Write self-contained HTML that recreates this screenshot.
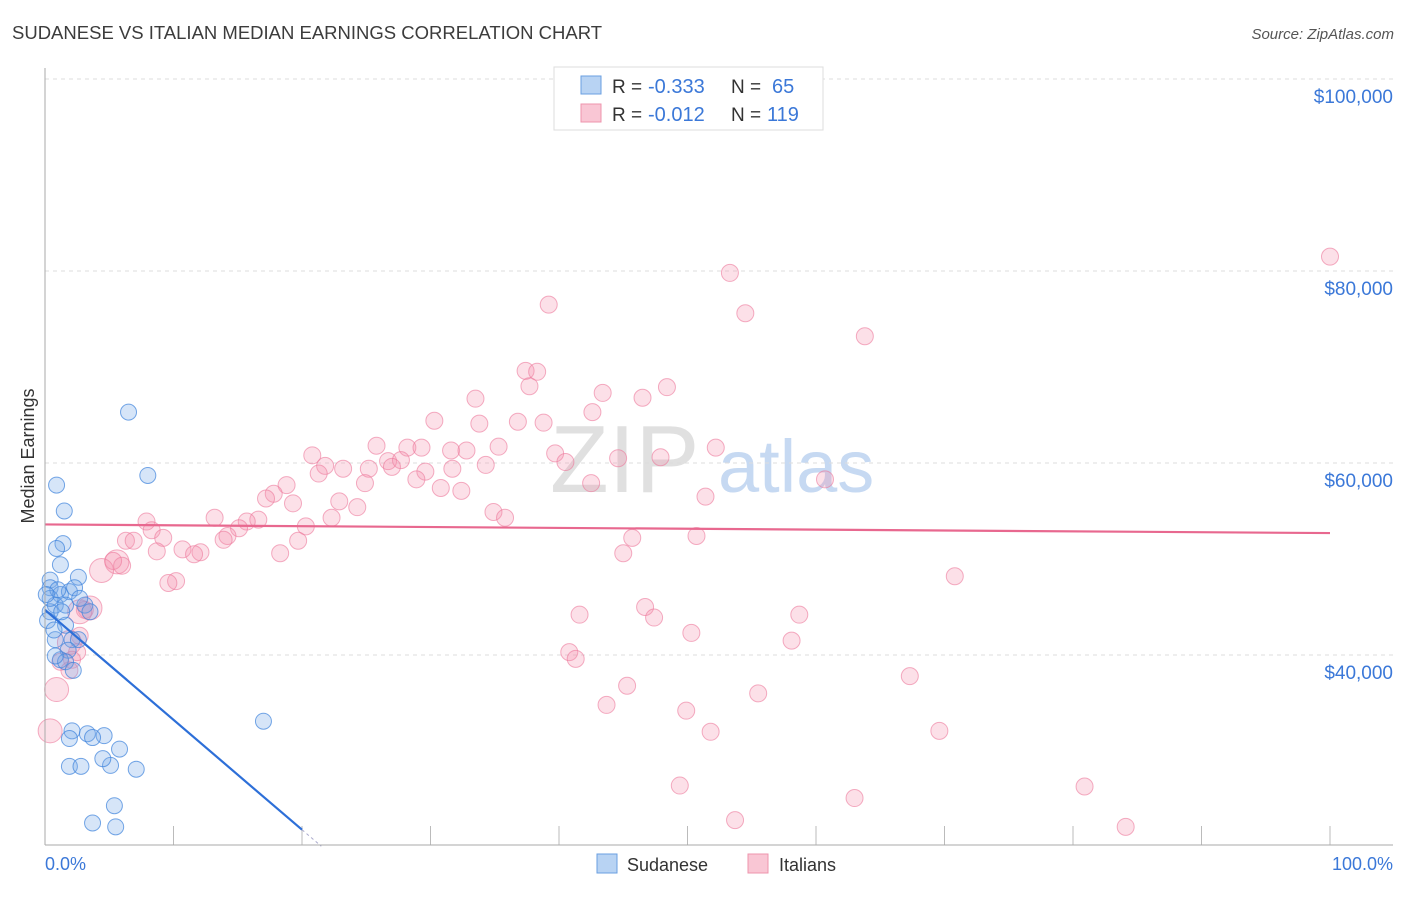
<!DOCTYPE html>
<html><head><meta charset="utf-8"><style>
body{margin:0;background:#fff;font-family:"Liberation Sans",sans-serif}
svg text{font-family:"Liberation Sans",sans-serif}
</style></head><body>
<svg id="c" width="1406" height="892">
<text x="12" y="39" font-size="18.5" fill="#3c3c3c">SUDANESE VS ITALIAN MEDIAN EARNINGS CORRELATION CHART</text>
<text x="1394" y="39" font-size="15" fill="#555" font-style="italic" text-anchor="end">Source: ZipAtlas.com</text>
<text transform="translate(34,456) rotate(-90)" font-size="18" fill="#333" text-anchor="middle">Median Earnings</text>
<text x="550" y="492" font-size="96" fill="#e0e0e0" font-family="Liberation Serif">ZIP</text>
<text x="718" y="492" font-size="74" fill="#c6d9f2">atlas</text>
<g id="grid"></g><g id="pts"></g><g id="lines"></g>
<line x1="45" y1="68" x2="45" y2="845" stroke="#aaa"/>
<line x1="45" y1="845" x2="1393" y2="845" stroke="#aaa"/>
<text x="45" y="870" font-size="18" fill="#3b78d8">0.0%</text>
<text x="1393" y="870" font-size="18" fill="#3b78d8" text-anchor="end">100.0%</text>
<g>
<rect x="554" y="67" width="269" height="63" fill="#fff" stroke="#ddd"/>
<rect x="581" y="76" width="20" height="18" fill="#b8d3f3" stroke="#6a9fe0"/>
<rect x="581" y="104" width="20" height="18" fill="#f9c6d4" stroke="#ee94ad"/>
<text x="612" y="93" font-size="19" fill="#333">R =</text>
<text x="648" y="93" font-size="20" fill="#3b78d8">-0.333</text>
<text x="731" y="93" font-size="19" fill="#333">N =</text>
<text x="772" y="93" font-size="20" fill="#3b78d8">65</text>
<text x="612" y="121" font-size="19" fill="#333">R =</text>
<text x="648" y="121" font-size="20" fill="#3b78d8">-0.012</text>
<text x="731" y="121" font-size="19" fill="#333">N =</text>
<text x="767" y="121" font-size="20" fill="#3b78d8">119</text>
</g>
<g>
<rect x="597" y="854" width="20" height="19" fill="#b8d3f3" stroke="#6a9fe0"/>
<text x="627" y="871" font-size="18" fill="#333">Sudanese</text>
<rect x="748" y="854" width="20" height="19" fill="#f9c6d4" stroke="#ee94ad"/>
<text x="779" y="871" font-size="18" fill="#333">Italians</text>
</g>
</svg>
<script>
const yTicks=[40000,60000,80000,100000];
const yTickLabels=["$40,000","$60,000","$80,000","$100,000"];
const xTicks=[0,10,20,30,40,50,60,70,80,90,100];
const sudX=[6.5,8.0,0.9,1.5,1.4,0.9,1.2,0.4,2.6,0.4,1.2,1.9,2.3,0.8,1.6,3.1,2.7,3.5,0.4,0.8,1.6,2.1,2.6,1.8,1.2,1.6,2.2,0.8,17.0,2.1,3.3,4.6,3.7,1.9,5.8,1.9,2.8,5.1,4.5,7.1,5.4,3.7,5.5,0.4,1.0,0.1,0.2,1.3,0.7];
const sudY=[65.3,58.7,57.7,55.0,51.6,51.1,49.4,47.8,48.1,47.0,46.3,46.6,47.0,45.2,45.2,45.2,45.9,44.5,44.5,41.6,43.1,41.6,41.6,40.5,39.5,39.3,38.4,39.9,33.1,32.1,31.8,31.6,31.4,31.3,30.2,28.4,28.4,28.5,29.2,28.1,24.3,22.5,22.1,45.9,46.8,46.3,43.6,44.5,42.6];
const itaX=[100,53.3,39.2,54.5,63.8,37.4,38.3,37.7,43.4,48.4,33.5,42.6,46.5,30.3,33.8,36.8,38.8,25.8,28.2,29.3,20.8,21.8,35.3,39.7,40.5,31.6,32.8,44.6,47.9,52.2,26.7,27.7,27.0,23.2,25.2,29.6,31.7,34.3,21.3,28.9,24.9,30.8,32.4,60.7,42.5,18.8,17.8,17.2,22.9,19.3,24.3,51.4,34.9,35.8,22.3,7.9,13.2,16.6,15.7,20.3,8.3,15.1,14.2,9.2,6.3,6.9,13.9,19.7,45.7,50.7,10.7,8.7,12.1,11.6,45.0,18.3,5.6,6.0,4.4,5.3,10.2,9.6,70.8,46.7,41.6,47.4,58.7,3.5,3.1,2.7,50.3,58.1,1.9,2.7,40.8,41.3,2.5,2.1,1.2,1.9,67.3,45.3,0.9,55.5,43.7,49.9,51.8,69.6,0.4,49.4,80.9,63.0,53.7,84.1];
const itaY=[81.5,79.8,76.5,75.6,73.2,69.6,69.5,68.0,67.3,67.9,66.7,65.3,66.8,64.4,64.1,64.3,64.2,61.8,61.6,61.6,60.8,59.7,61.7,61.0,60.1,61.3,61.3,60.5,60.6,61.6,60.2,60.3,59.6,59.4,59.4,59.1,59.4,59.8,58.9,58.3,57.9,57.4,57.1,58.3,57.9,57.7,56.8,56.3,56.0,55.8,55.4,56.5,54.9,54.3,54.3,53.9,54.3,54.1,53.9,53.4,53.0,53.2,52.4,52.2,51.9,51.9,52.0,51.9,52.2,52.4,51.0,50.8,50.7,50.5,50.6,50.6,49.7,49.3,48.8,49.8,47.7,47.5,48.2,45.0,44.2,43.9,44.2,44.9,44.7,44.5,42.3,41.5,41.3,42.0,40.3,39.6,40.3,39.5,39.3,38.4,37.8,36.8,36.4,36.0,34.8,34.2,32.0,32.1,32.1,26.4,26.3,25.1,22.8,22.1];
const itaBig=[76,78,87,89,92,102,108];
const sudTrend=[44700,-1145];
const itaTrend=[53600,-9];
const NS="http://www.w3.org/2000/svg";
const X=p=>45+p*12.85;
const Y=v=>1039-v*0.0096;
function mk(t,a,p){const e=document.createElementNS(NS,t);for(const k in a)e.setAttribute(k,a[k]);p.appendChild(e);return e;}
const grid=document.getElementById('grid'),pts=document.getElementById('pts'),lines=document.getElementById('lines');
mk('line',{x1:45,y1:Y(100000),x2:1393,y2:Y(100000),stroke:'#ddd','stroke-dasharray':'4,4'},grid);
yTicks.forEach((v,i)=>{
 const l=mk('line',{x1:45,y1:Y(v),x2:1393,y2:Y(v),stroke:'#ddd','stroke-dasharray':'4,4'},grid);
 
 
 const t=mk('text',{x:1393,y:Y(v)+24,'font-size':19,fill:'#3b78d8','text-anchor':'end'},grid);
 t.textContent=yTickLabels[i];
 
 
});
xTicks.forEach(p=>{
 const l=mk('line',{x1:X(p),y1:826,x2:X(p),y2:845,stroke:'#bbb'},grid);
 
 
});
itaX.forEach((x,i)=>{
 const c=mk('circle',{cx:X(x),cy:Y(itaY[i]*1000),r:itaBig.includes(i)?12:8.5,fill:'rgba(244,143,172,0.28)',stroke:'rgba(236,120,155,0.6)','stroke-width':1},pts);
 
 
});
sudX.forEach((x,i)=>{
 const c=mk('circle',{cx:X(x),cy:Y(sudY[i]*1000),r:8,fill:'rgba(120,170,232,0.3)',stroke:'rgba(60,130,220,0.7)','stroke-width':1},pts);
 
 
});
const sT=p=>sudTrend[0]+sudTrend[1]*p;
const b=mk('line',{x1:X(0),y1:Y(sT(0)),x2:X(20),y2:Y(sT(20)),stroke:'#2d6fd8','stroke-width':2.2},lines);


const bd=mk('line',{x1:X(20),y1:Y(sT(20)),x2:X(21.5),y2:Y(sT(21.5)),stroke:'#aac','stroke-width':1,'stroke-dasharray':'3,3'},lines);


const iT=p=>itaTrend[0]+itaTrend[1]*p;
const pl=mk('line',{x1:X(0),y1:Y(iT(0)),x2:X(100),y2:Y(iT(100)),stroke:'#e8688f','stroke-width':2.2},lines);


</script>
</body></html>
